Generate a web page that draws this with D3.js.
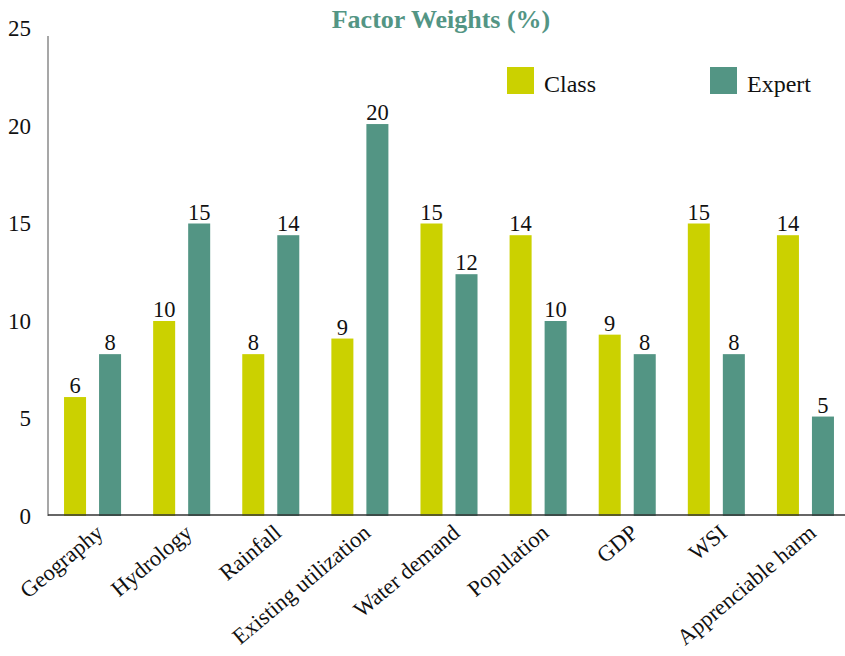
<!DOCTYPE html>
<html>
<head>
<meta charset="utf-8">
<script src="https://cdn.jsdelivr.net/npm/d3@7/dist/d3.min.js"></script>
<style>
  html, body { margin: 0; padding: 0; background: #fff; }
  svg { display: block; font-family: "Liberation Serif", "Times New Roman", serif; }
</style>
</head>
<body>
<svg id="chart" width="845" height="656"></svg>
<script>
const categories = ["Geography", "Hydrology", "Rainfall", "Existing utilization", "Water demand", "Population", "GDP", "WSI", "Apprenciable harm"];
const seriesNames = ["Class", "Expert"];
const classValues = [6.1, 10.0, 8.3, 9.1, 15.0, 14.4, 9.3, 15.0, 14.4];
const expertValues = [8.3, 15.0, 14.4, 20.1, 12.4, 10.0, 8.3, 8.3, 5.1];
const yTicks = [0, 5, 10, 15, 20, 25];
const colors = { Class: "#cbd100", Expert: "#539584" };
const titleText = "Factor Weights (%)";

const svg = d3.select("#chart");
const W = 845, H = 656;
const mLeft = 48, mRight = 850, mBottom = 516, mTop = 28.5;

const x0 = d3.scaleBand().domain(categories).range([mLeft, mRight]).paddingInner(0.36).paddingOuter(0.18);
const x1 = d3.scaleBand().domain(seriesNames).range([0, x0.bandwidth()]).paddingInner(0.3714).paddingOuter(0);
const y = d3.scaleLinear().domain([0, 25]).range([mBottom, mTop]);

const data = categories.map((c, i) => ({ cat: c, values: [
  { key: "Class", value: classValues[i] },
  { key: "Expert", value: expertValues[i] }
]}));

// Title
svg.append("text")
  .attr("x", 441).attr("y", 28)
  .attr("text-anchor", "middle")
  .attr("font-size", 26).attr("font-weight", "bold")
  .attr("fill", "#539584")
  .text(titleText);

// Y axis (labels only)
const yAxis = d3.axisLeft(y).tickValues(yTicks).tickSize(0).tickPadding(17).tickFormat(d3.format("d"));
const yg = svg.append("g").attr("transform", `translate(${mLeft},0)`).call(yAxis);
yg.select(".domain").remove();
yg.selectAll("text").attr("font-size", 23).attr("fill", "#111").attr("font-family", "Liberation Serif");

// y axis line
svg.append("line")
  .attr("x1", mLeft).attr("x2", mLeft)
  .attr("y1", y(0)).attr("y2", 36)
  .attr("stroke", "#8a8a8a").attr("stroke-width", 1.5);

// Bars
const groups = svg.append("g").selectAll("g").data(data).join("g")
  .attr("transform", d => `translate(${x0(d.cat)},0)`);
groups.selectAll("rect").data(d => d.values).join("rect")
  .attr("x", d => x1(d.key))
  .attr("y", d => y(d.value))
  .attr("width", x1.bandwidth())
  .attr("height", d => y(0) - y(d.value))
  .attr("fill", d => colors[d.key]);
groups.selectAll("text").data(d => d.values).join("text")
  .attr("x", d => x1(d.key) + x1.bandwidth() / 2)
  .attr("y", d => y(d.value) - 4)
  .attr("text-anchor", "middle")
  .attr("font-size", 22.5)
  .attr("fill", "#111")
  .text(d => d3.format(".0f")(d.value));

// X axis
const xAxis = d3.axisBottom(x0).tickSize(0).tickPadding(0);
const xg = svg.append("g").attr("transform", `translate(0,${mBottom - 1})`).call(xAxis);
xg.select(".domain").remove();
svg.append("line")
  .attr("x1", mLeft).attr("x2", W)
  .attr("y1", mBottom - 1).attr("y2", mBottom - 1)
  .attr("stroke", "#333").attr("stroke-width", 1.5);
xg.selectAll(".tick text")
  .attr("font-size", 22.5)
  .attr("fill", "#111")
  .attr("font-family", "Liberation Serif")
  .attr("text-anchor", "end")
  .attr("dy", "0.35em")
  .attr("y", 0)
  .attr("transform", "translate(7,14) rotate(-40)");

// Legend
const legend = svg.append("g");
const legendItems = [{ key: "Class", x: 507 }, { key: "Expert", x: 710 }];
legendItems.forEach(it => {
  legend.append("rect").attr("x", it.x).attr("y", 67).attr("width", 27).attr("height", 27).attr("fill", colors[it.key]);
  legend.append("text").attr("x", it.x + 37).attr("y", 92).attr("font-size", 24).attr("fill", "#111").text(it.key);
});
</script>
</body>
</html>
